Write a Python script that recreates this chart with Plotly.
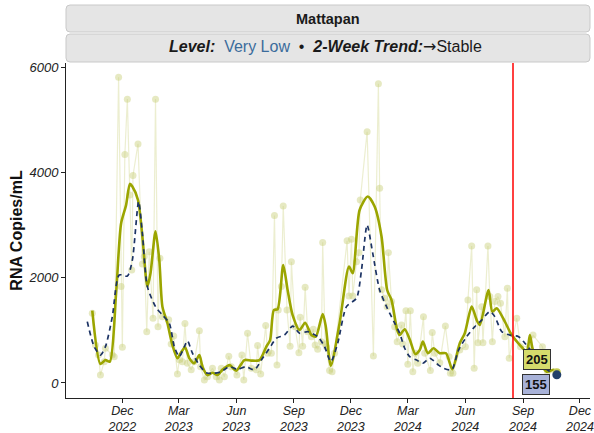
import plotly.graph_objects as go

# ---------------- data ----------------
raw_dates = [
    "2022-10-14", "2022-10-19", "2022-10-24", "2022-10-27", "2022-11-02", "2022-11-04",
    "2022-11-15", "2022-11-18", "2022-11-25", "2022-11-29", "2022-12-01", "2022-12-05",
    "2022-12-09", "2022-12-13", "2022-12-16", "2022-12-18", "2022-12-26", "2023-01-02",
    "2023-01-05", "2023-01-09", "2023-01-13", "2023-01-19", "2023-01-23", "2023-01-27",
    "2023-01-30", "2023-02-03", "2023-02-13", "2023-02-17", "2023-02-21", "2023-02-27",
    "2023-03-02", "2023-03-07", "2023-03-11", "2023-03-15", "2023-03-21", "2023-03-26",
    "2023-04-03", "2023-04-05", "2023-04-11", "2023-04-16", "2023-04-24", "2023-04-30",
    "2023-05-05", "2023-05-08", "2023-05-13", "2023-05-20", "2023-05-24", "2023-06-02",
    "2023-06-10", "2023-06-13", "2023-06-19", "2023-06-25", "2023-07-03", "2023-07-05",
    "2023-07-10", "2023-07-18", "2023-07-21", "2023-07-27", "2023-08-01", "2023-08-05",
    "2023-08-07", "2023-08-12", "2023-08-15", "2023-08-21", "2023-08-26", "2023-08-28",
    "2023-09-03", "2023-09-09", "2023-09-11", "2023-09-15", "2023-09-19", "2023-09-23",
    "2023-09-29", "2023-10-02", "2023-10-05", "2023-10-09", "2023-10-15", "2023-10-17",
    "2023-10-21", "2023-10-23", "2023-10-28", "2023-11-01", "2023-11-05", "2023-11-25",
    "2023-11-28", "2023-12-02", "2023-12-04", "2023-12-10", "2023-12-14", "2023-12-16",
    "2023-12-27", "2024-01-06", "2024-01-14", "2024-01-16", "2024-01-19", "2024-01-24",
    "2024-01-28", "2024-01-30", "2024-02-04", "2024-02-09", "2024-02-13", "2024-02-20",
    "2024-02-22", "2024-02-27", "2024-03-01", "2024-03-05", "2024-03-09", "2024-03-13",
    "2024-03-17", "2024-03-26", "2024-03-28", "2024-04-06", "2024-04-09", "2024-04-13",
    "2024-04-21", "2024-04-30", "2024-05-06", "2024-05-08", "2024-05-12", "2024-05-23",
    "2024-06-01", "2024-06-05", "2024-06-11", "2024-06-15", "2024-06-19", "2024-06-21",
    "2024-06-27", "2024-06-29", "2024-07-07", "2024-07-10", "2024-07-14", "2024-07-18",
    "2024-07-23", "2024-07-27", "2024-08-03", "2024-08-07", "2024-08-10", "2024-08-22",
    "2024-08-28", "2024-09-11", "2024-09-17", "2024-10-02", "2024-10-10", "2024-10-25",
]
raw_values = [
    1323, 720, 530, 150, 405, 660,
    530, 500, 5805, 1830, 680, 4340,
    5390, 3570, 2145, 3940, 4540, 2260,
    2400, 975, 2490, 1230, 5390, 1070,
    2370, 1260, 1200, 740, 890, 170,
    440, 405, 1130, 375, 250, 405,
    990, 310, 57, 120, 280, 120,
    57, 280, 120, 510, 310, 150,
    530, 57, 945, 280, 250, 710,
    170, 1090, 565, 565, 3180, 340,
    1385, 1830, 3360, 1385, 700, 2300,
    1070, 575, 1250, 700, 1820, 975,
    880, 1020, 720, 640, 785, 2670,
    740, 690, 235, 215, 565, 2700,
    1650, 2730, 1650, 2300, 2475, 3475,
    4770, 513, 5680, 3700, 1770, 1610,
    1450, 2475, 1545, 1070, 785, 1100,
    740, 1370, 355, 1370, 215, 565,
    375, 1260, 565, 235, 960, 565,
    385, 1080, 500, 185, 185, 625,
    690, 1575, 2600, 280, 1770, 765,
    1450, 765, 2600, 1640, 785, 1545,
    1640, 1515, 880, 1800, 470, 1230,
    690, 690, 910, 690, 215, 185,
]

smooth_dates = [
    "2022-10-14", "2022-10-27", "2022-11-04", "2022-11-11", "2022-11-21", "2022-11-29",
    "2022-12-07", "2022-12-13", "2022-12-17", "2022-12-26", "2023-01-02", "2023-01-10",
    "2023-01-15", "2023-01-23", "2023-01-29", "2023-02-03", "2023-02-11", "2023-02-19",
    "2023-02-27", "2023-03-04", "2023-03-11", "2023-03-18", "2023-03-26", "2023-04-03",
    "2023-04-08", "2023-04-16", "2023-04-24", "2023-05-02", "2023-05-10", "2023-05-21",
    "2023-06-01", "2023-06-14", "2023-06-25", "2023-07-08", "2023-07-19", "2023-07-25",
    "2023-07-31", "2023-08-06", "2023-08-15", "2023-08-22", "2023-08-30", "2023-09-10",
    "2023-09-19", "2023-09-29", "2023-10-06", "2023-10-17", "2023-10-22", "2023-10-30",
    "2023-11-13", "2023-11-28", "2023-12-04", "2023-12-15", "2023-12-28", "2024-01-08",
    "2024-01-19", "2024-01-28", "2024-02-04", "2024-02-13", "2024-02-17", "2024-02-25",
    "2024-03-04", "2024-03-13", "2024-03-20", "2024-03-25", "2024-04-02", "2024-04-11",
    "2024-04-21", "2024-05-01", "2024-05-11", "2024-05-23", "2024-05-31", "2024-06-11",
    "2024-06-19", "2024-06-24", "2024-07-08", "2024-07-14", "2024-07-21", "2024-08-03",
    "2024-08-13", "2024-08-27", "2024-09-07", "2024-09-12", "2024-09-17", "2024-10-09",
    "2024-10-20", "2024-10-25",
]
smooth_values = [
    1373, 360, 437, 405, 1700, 3030,
    3380, 3780, 3730, 3475, 2780, 1830,
    2085, 2880, 2335, 1450, 1135, 720,
    470, 565, 680, 470, 375, 530,
    310, 150, 195, 150, 250, 340,
    235, 435, 425, 435, 690, 815,
    1385, 1400, 2240, 1765, 1290, 1005,
    1145, 910, 880, 1310, 1070, 325,
    1135, 2210, 2085, 3285, 3540, 3350,
    2780, 1765, 1575, 1005, 910, 1020,
    830, 550, 625, 785, 565, 660,
    565, 565, 260, 755, 945, 1450,
    1195, 1100, 1765, 1355, 1420, 1165,
    930, 720, 595, 910, 625, 215,
    250, 205,
]

trend_dates = [
    "2022-10-06", "2022-10-17", "2022-10-27", "2022-11-04", "2022-11-15", "2022-11-26",
    "2022-12-09", "2022-12-17", "2022-12-27", "2023-01-02", "2023-01-10", "2023-01-23",
    "2023-02-03", "2023-02-14", "2023-02-22", "2023-03-02", "2023-03-10", "2023-03-15",
    "2023-03-23", "2023-04-03", "2023-04-14", "2023-04-27", "2023-05-08", "2023-05-21",
    "2023-06-03", "2023-06-16", "2023-06-30", "2023-07-11", "2023-07-24", "2023-08-04",
    "2023-08-17", "2023-08-30", "2023-09-10", "2023-09-23", "2023-10-09", "2023-10-20",
    "2023-10-30", "2023-11-10", "2023-11-24", "2023-12-10", "2023-12-18", "2023-12-27",
    "2024-01-05", "2024-01-16", "2024-01-27", "2024-02-09", "2024-02-17", "2024-02-25",
    "2024-03-04", "2024-03-15", "2024-03-25", "2024-04-05", "2024-04-19", "2024-04-27",
    "2024-05-10", "2024-05-21", "2024-06-03", "2024-06-16", "2024-06-27", "2024-07-10",
    "2024-07-18", "2024-07-29", "2024-08-11", "2024-08-25", "2024-09-04", "2024-09-17",
    "2024-10-03", "2024-10-14", "2024-10-25",
]
trend_values = [
    1165, 690, 530, 690, 1260, 2050,
    2030, 2335, 3445, 2840, 1830, 1450,
    1290, 1135, 690, 500, 690, 800,
    565, 340, 195, 185, 215, 310,
    260, 310, 250, 435, 660, 850,
    910, 1080, 945, 975, 880, 690,
    405, 755, 1450, 1610, 2145, 3000,
    2460, 1765, 1450, 1135, 945, 660,
    500, 435, 375, 470, 340, 280,
    250, 625, 880, 1070, 1195, 1355,
    1260, 975, 910, 880, 755, 565,
    310, 215, 155,
]

x_tick_vals = ["2022-12-01", "2023-03-01", "2023-06-01", "2023-09-01", "2023-12-01",
               "2024-03-01", "2024-06-01", "2024-09-01", "2024-12-01"]
x_tick_text = ["Dec<br>2022", "Mar<br>2023", "Jun<br>2023", "Sep<br>2023", "Dec<br>2023",
               "Mar<br>2024", "Jun<br>2024", "Sep<br>2024", "Dec<br>2024"]
y_tick_vals = [0, 2000, 4000, 6000]
ref_date = "2024-08-16"
x_range = ["2022-09-02", "2024-12-17"]
y_range = [-285, 6076]

# ---------------- styling ----------------
W, H = 594, 433
L, R, T, B = 66, 4, 63, 35
PW, PH = W - L - R, H - T - B
FONT = "Liberation Sans, Arial, Helvetica, sans-serif"
RAW_C = "rgba(200,207,120,0.45)"
SMOOTH_C = "#9ba500"
TREND_C = "#1c3364"


def px(xp):
    return (xp - L) / PW


def py(yp):
    return (H - B - yp) / PH


def rrect(x0, y0, x1, y1, r=4):
    # rounded rectangle path in paper coordinates, given pixel corners
    rx, ry = r / PW, r / PH
    a, b, c, d = px(x0), py(y1), px(x1), py(y0)  # left, bottom, right, top
    return (f"M {a+rx},{b} L {c-rx},{b} Q {c},{b} {c},{b+ry} L {c},{d-ry} "
            f"Q {c},{d} {c-rx},{d} L {a+rx},{d} Q {a},{d} {a},{d-ry} "
            f"L {a},{b+ry} Q {a},{b} {a+rx},{b} Z")


fig = go.Figure()

fig.add_trace(go.Scatter(
    x=raw_dates, y=raw_values, mode="lines+markers",
    line=dict(color="rgba(200,207,120,0.35)", width=1.2),
    marker=dict(color=RAW_C, size=7),
    hoverinfo="skip", showlegend=False))

fig.add_trace(go.Scatter(
    x=smooth_dates, y=smooth_values, mode="lines",
    line=dict(color=SMOOTH_C, width=2.6, shape="spline", smoothing=0.7),
    showlegend=False))

fig.add_trace(go.Scatter(
    x=trend_dates, y=trend_values, mode="lines",
    line=dict(color=TREND_C, width=1.7, dash="5px,4px", shape="spline", smoothing=0.7),
    showlegend=False))

# end points
fig.add_trace(go.Scatter(
    x=[smooth_dates[-1]], y=[smooth_values[-1]], mode="markers",
    marker=dict(color="#c4ca55", size=8), showlegend=False))
fig.add_trace(go.Scatter(
    x=[trend_dates[-1]], y=[trend_values[-1]], mode="markers",
    marker=dict(color="#22406b", size=9), showlegend=False))

# red reference line
fig.add_shape(type="line", xref="x", yref="paper", x0=ref_date, x1=ref_date,
              y0=0, y1=1, line=dict(color="#ff0000", width=1.5))

# facet strips
fig.add_shape(type="path", xref="paper", yref="paper", path=rrect(66, 5, 590, 32),
              fillcolor="#e5e5e5", line=dict(color="#c9c9c9", width=1), layer="above")
fig.add_shape(type="path", xref="paper", yref="paper", path=rrect(66, 34, 590, 62),
              fillcolor="#e5e5e5", line=dict(color="#c9c9c9", width=1), layer="above")

fig.add_annotation(xref="paper", yref="paper", x=px(328), y=py(19),
                   text="<b>Mattapan</b>", showarrow=False,
                   font=dict(family=FONT, size=14.5, color="#1a1a1a"),
                   xanchor="center", yanchor="middle")
fig.add_annotation(xref="paper", yref="paper", x=px(325), y=py(47),
                   text=("<b><i>Level:</i></b>  <span style='color:#3b6c9c'>Very Low</span>"
                         "  •  <b><i>2-Week Trend:</i></b>"
                         "<span style='font-family:DejaVu Sans'>→</span>Stable"),
                   showarrow=False,
                   font=dict(family=FONT, size=16, color="#1a1a1a"),
                   xanchor="center", yanchor="middle")

# end labels
fig.add_annotation(x=smooth_dates[-1], y=smooth_values[-1], text="<b>205</b>",
                   showarrow=False, xshift=-20, yshift=13,
                   bgcolor="#d5db6c", bordercolor="#333333", borderwidth=1, borderpad=2,
                   font=dict(family=FONT, size=13, color="#111111"))
fig.add_annotation(x=trend_dates[-1], y=trend_values[-1], text="<b>155</b>",
                   showarrow=False, xshift=-21, yshift=-10,
                   bgcolor="#a8b2d8", bordercolor="#333333", borderwidth=1, borderpad=2,
                   font=dict(family=FONT, size=13, color="#111111"))

fig.update_layout(
    width=W, height=H,
    margin=dict(l=L, r=R, t=T, b=B, autoexpand=False),
    plot_bgcolor="white", paper_bgcolor="white",
    font=dict(family=FONT),
    xaxis=dict(type="date", range=x_range, tickvals=x_tick_vals, ticktext=x_tick_text,
               showline=True, linecolor="#222222", linewidth=1,
               ticks="outside", ticklen=4, tickcolor="#222222",
               ticklabelstandoff=-3,
               showgrid=False, zeroline=False, automargin=False,
               tickfont=dict(family=FONT, size=12.5, color="#222222", style="italic")),
    yaxis=dict(range=y_range, tickvals=y_tick_vals,
               showline=True, linecolor="#222222", linewidth=1,
               ticks="outside", ticklen=4, tickcolor="#222222",
               showgrid=False, zeroline=False, automargin=False,
               tickfont=dict(family=FONT, size=13, color="#222222", style="italic"),
               title=dict(text="<b>RNA Copies/mL</b>", standoff=1,
                          font=dict(family=FONT, size=16, color="#111111"))),
)

fig.write_html("out.html", config={"displayModeBar": False})

# remove the browser's default 8px body margin so the figure sits at the page origin
with open("out.html", "r", encoding="utf-8") as f:
    html = f.read()
html = html.replace("<head>", "<head><style>html,body{margin:0;padding:0;}</style>", 1)
with open("out.html", "w", encoding="utf-8") as f:
    f.write(html)
